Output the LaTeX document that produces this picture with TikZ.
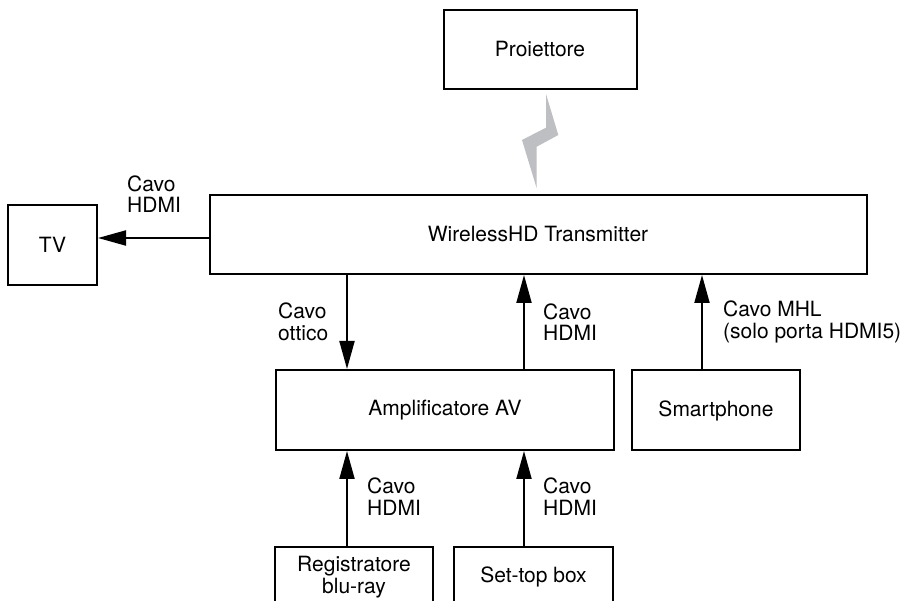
\documentclass[tikz,border=0pt]{standalone}
\usepackage{fontspec}
\setmainfont{TeX Gyre Heros}
\usetikzlibrary{arrows.meta}
\definecolor{boltgray}{RGB}{190,191,195}
\tikzset{
  txt/.style={font=\fontsize{21}{21.5}\selectfont},
  box/.style={txt, draw=black, line width=2pt, rectangle, inner sep=0pt, align=center},
  openbox/.style={txt, rectangle, inner sep=0pt, align=center},
  lbl/.style={txt, inner sep=0pt, anchor=west, align=left},
  arr/.style={line width=2pt, -{Triangle[length=28pt,width=15pt]}},
  side/.style={line width=2pt}
}
\begin{document}
\begin{tikzpicture}[x=1pt,y=-1pt]
\useasboundingbox (0,0) rectangle (903,601);
\clip (0,0) rectangle (903,601);
% boxes
\node[box, minimum width=193pt, minimum height=79pt] (proj) at (540,49.5) {Proiettore};
\node[box, minimum width=657pt, minimum height=79pt] (wt) at (538,234.5) {WirelessHD Transmitter};
\node[box, minimum width=89pt, minimum height=80pt] (tv) at (52.5,245) {TV};
\node[box, minimum width=338pt, minimum height=80pt] (amp) at (445,410) {Amplificatore AV};
\node[box, minimum width=168pt, minimum height=80pt] (sp) at (716,410.5) {Smartphone};
\node[openbox, minimum width=158pt, minimum height=60pt] (reg) at (354,577) {Registratore\\blu-ray};
\node[openbox, minimum width=159pt, minimum height=60pt] (stb) at (533.5,577) {Set-top box};
\draw[side] (reg.south west) -- (reg.north west) -- (reg.north east) -- (reg.south east);
\draw[side] (stb.south west) -- (stb.north west) -- (stb.north east) -- (stb.south east);
% wireless bolt
\fill[boltgray] (546,94) -- (558.3,135) -- (536.7,146.7) -- (536.7,188.3) -- (522,140) -- (546,127.7) -- cycle;
% connector x positions
\coordinate (xott) at (347,0);
\coordinate (xhd) at (524,0);
\coordinate (xsp) at (702,0);
\coordinate (ytv) at (0,238);
% connectors
\draw[arr] (wt.west |- ytv) -- (tv.east |- ytv);
\draw[arr] (xott |- wt.south) -- (xott |- amp.north);
\draw[arr] (xhd |- amp.north) -- (xhd |- wt.south);
\draw[arr] (xsp |- sp.north) -- (xsp |- wt.south);
\draw[arr] (xott |- reg.north) -- (xott |- amp.south);
\draw[arr] (xhd |- stb.north) -- (xhd |- amp.south);
% labels
\node[lbl] (l1) at (127,194) {Cavo\\HDMI};
\node[lbl] (l2) at (278,322) {Cavo\\ottico};
\node[lbl] (l3) at (543,322) {Cavo\\HDMI};
\node[lbl] (l4) at (723,322) {Cavo MHL\\(solo porta HDMI5)};
\node[lbl] (l5) at (367,496.5) {Cavo\\HDMI};
\node[lbl] (l6) at (543,496.5) {Cavo\\HDMI};
\end{tikzpicture}
\end{document}
